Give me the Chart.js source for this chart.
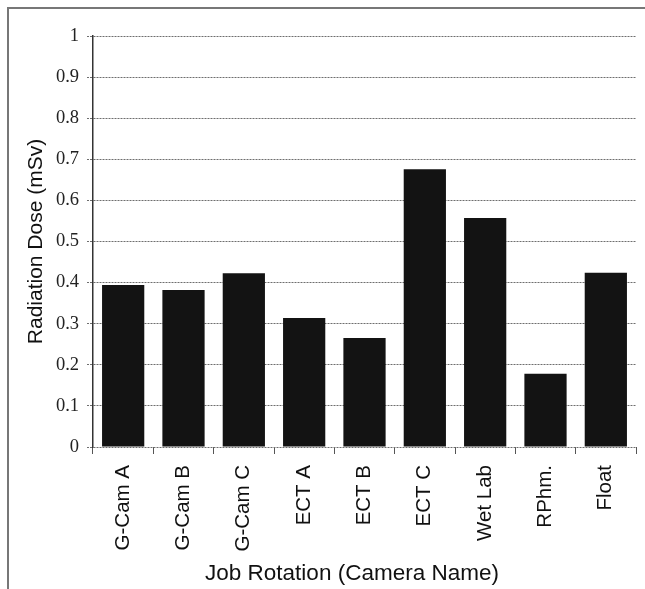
<!DOCTYPE html>
<html>
<head>
<meta charset="utf-8">
<script src="https://cdn.jsdelivr.net/npm/chart.js@4/dist/chart.umd.min.js"></script>
<style>
  body { margin: 0; background: #fff; }
  canvas { display: block; }
</style>
</head>
<body>
<canvas id="grafico" width="645" height="589"></canvas>
<script>
// datos
const camaras = ['G-Cam A', 'G-Cam B', 'G-Cam C', 'ECT A', 'ECT B', 'ECT C', 'Wet Lab', 'RPhm.', 'Float'];
const dosis = [0.394, 0.382, 0.423, 0.314, 0.265, 0.676, 0.557, 0.178, 0.424];
const etiquetasY = ['0', '0.1', '0.2', '0.3', '0.4', '0.5', '0.6', '0.7', '0.8', '0.9', '1'];

// marco gris alrededor de la figura
const marco = {
    id: 'marco',
    beforeDraw(chart) {
        const ctx = chart.ctx;
        ctx.save();
        ctx.fillStyle = '#fff';
        ctx.fillRect(0, 0, chart.width, chart.height);
        ctx.strokeStyle = '#777';
        ctx.lineWidth = 2;
        ctx.beginPath();
        ctx.moveTo(8, chart.height);
        ctx.lineTo(8, 8);
        ctx.lineTo(chart.width, 8);
        ctx.stroke();
        ctx.restore();
    }
};

new Chart(document.getElementById('grafico').getContext('2d'), {
    type: 'bar',
    data: {
        labels: camaras,
        datasets: [{
            data: dosis,
            backgroundColor: '#131313',
            borderWidth: 0,
            barPercentage: 0.7,
            categoryPercentage: 1
        }]
    },
    options: {
        responsive: false,
        animation: false,
        layout: { padding: { top: 36, right: 9, left: 0, bottom: 0 } },
        plugins: {
            legend: { display: false },
            tooltip: { enabled: false }
        },
        scales: {
            x: {
                afterFit: scale => { scale.height = 142; },
                grid: {
                    offset: true,
                    drawOnChartArea: false,
                    tickLength: 7,
                    tickColor: '#555'
                },
                border: { display: false },
                ticks: {
                    maxRotation: 90,
                    minRotation: 90,
                    padding: 11,
                    color: '#111',
                    font: { family: 'Liberation Sans, Arial, sans-serif', size: 20.5 }
                },
                title: {
                    display: true,
                    // espacios al final para correr el titulo un poco a la izquierda
                    text: 'Job Rotation (Camera Name)    ',
                    color: '#111',
                    padding: { bottom: 2, top: 0 },
                    font: { family: 'Liberation Sans, Arial, sans-serif', size: 22.5 }
                }
            },
            y: {
                min: 0,
                max: 1,
                afterFit: scale => { scale.width = 93; },
                afterBuildTicks: scale => {
                    scale.ticks = etiquetasY.map(t => ({ value: parseFloat(t) }));
                },
                grid: {
                    color: '#6e6e6e',
                    tickColor: '#6e6e6e',
                    tickLength: 6,
                    lineWidth: 1,
                    tickBorderDash: [2, 1]
                },
                border: { color: '#333', width: 1.5, dash: [2, 1] },
                ticks: {
                    padding: 8,
                    color: '#222',
                    font: { family: 'Liberation Serif, Times New Roman, serif', size: 18.5 },
                    callback: (v, i) => etiquetasY[i]
                },
                title: {
                    display: true,
                    text: 'Radiation Dose (mSv)',
                    color: '#111',
                    padding: { top: 24, bottom: 0 },
                    font: { family: 'Liberation Sans, Arial, sans-serif', size: 21 }
                }
            }
        }
    },
    plugins: [marco]
});
</script>
</body>
</html>
